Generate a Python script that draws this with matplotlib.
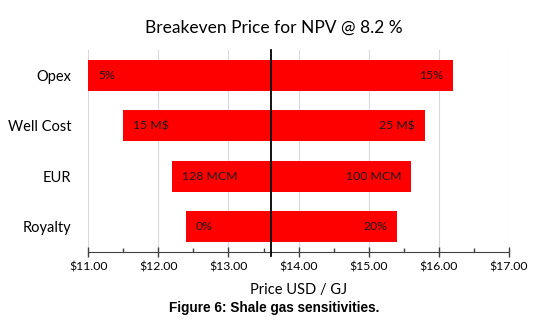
import numpy as np
import matplotlib.pyplot as plt
from matplotlib.ticker import MultipleLocator, FuncFormatter

# Tornado chart data: breakeven price for each sensitivity
categories = ['Opex', 'Well Cost', 'EUR', 'Royalty']
base_price = 13.6
low_price = [11.0, 11.5, 12.2, 12.4]
high_price = [16.2, 15.8, 15.6, 15.4]
low_labels = ['5%', '15 M$', '128 MCM', '0%']
high_labels = ['15%', '25 M$', '100 MCM', '20%']

plt.rcParams['font.family'] = ['Lato', 'DejaVu Sans']

fig = plt.figure(figsize=(5.51, 3.21), dpi=100)
ax = fig.add_axes([0.160, 0.215, 0.764, 0.629])

y = np.arange(len(categories))
red = '#ff0000'
ax.barh(y, np.array(base_price) - np.array(low_price), left=low_price,
        height=0.61, color=red, zorder=2)
ax.barh(y, np.array(high_price) - base_price, left=base_price,
        height=0.61, color=red, zorder=2)

# data labels inside the bar ends
for i in range(len(categories)):
    ax.annotate(low_labels[i], (low_price[i], y[i]), xytext=(7, 0),
                textcoords='offset points', ha='left', va='center',
                fontsize=8.8, color='#1a1a1a', zorder=3)
    ax.annotate(high_labels[i], (high_price[i], y[i]), xytext=(-7, 0),
                textcoords='offset points', ha='right', va='center',
                fontsize=8.8, color='#1a1a1a', zorder=3)

ax.axvline(base_price, ymin=-0.02, ymax=1, color='black', lw=1.3,
           zorder=4, clip_on=False)

ax.set_xlim(11, 17)
ax.set_ylim(3.5, -0.5)
ax.set_yticks(y)
ax.set_yticklabels(categories, fontsize=10.5)
ax.tick_params(axis='y', length=0, pad=12)

ax.xaxis.set_major_locator(MultipleLocator(1))
ax.xaxis.set_minor_locator(MultipleLocator(0.5))
ax.xaxis.set_major_formatter(FuncFormatter(lambda v, p: f'${v:.2f}'))
ax.tick_params(axis='x', which='major', direction='inout', length=7,
               width=1, color='#404040', labelsize=8.8, pad=3)
ax.tick_params(axis='x', which='minor', direction='in', length=3,
               width=1, color='#404040')
ax.grid(axis='x', which='major', color='#d9d9d9', lw=0.8, zorder=0)

for side in ['top', 'right', 'left']:
    ax.spines[side].set_visible(False)
ax.spines['bottom'].set_color('#404040')

ax.set_xlabel('Price USD / GJ', fontsize=10.5, labelpad=8)

fig.text(0.497, 0.913, 'Breakeven Price for NPV @ 8.2 %', ha='center',
         va='center', fontsize=12.5)
fig.text(0.497, 0.042, 'Figure 6: Shale gas sensitivities.', ha='center',
         va='center', fontsize=9.8, fontweight='bold',
         family='Liberation Sans')

fig.savefig('out.png', dpi=100)
